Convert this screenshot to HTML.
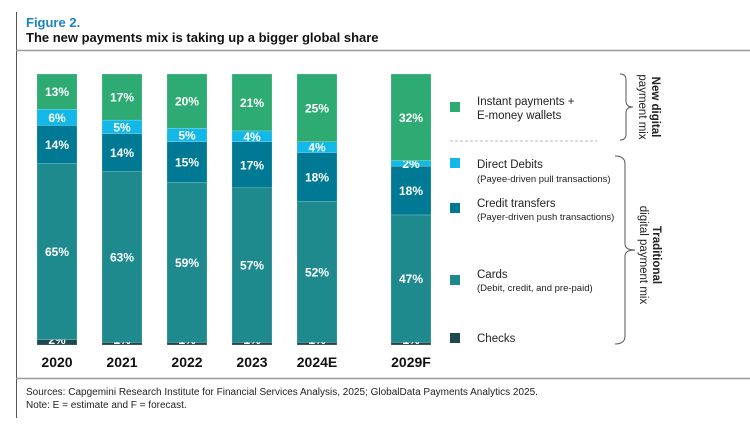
<!DOCTYPE html>
<html><head><meta charset="utf-8"><style>
body{margin:0;width:750px;height:431px;background:#fff;overflow:hidden;font-family:"Liberation Sans",sans-serif}
</style></head><body>
<svg id="chart" width="750" height="431" viewBox="0 0 750 431" xmlns="http://www.w3.org/2000/svg">
<line x1="16.5" y1="12" x2="16.5" y2="418" stroke="#555" stroke-width="1"/>
<line x1="16" y1="50.5" x2="750" y2="50.5" stroke="#999" stroke-width="1.5"/>
<line x1="16" y1="378.5" x2="750" y2="378.5" stroke="#999" stroke-width="1.5"/>
<text x="26" y="27" font-size="13" font-weight="bold" fill="#1a84c0">Figure 2.</text>
<text x="26" y="42" font-size="13" font-weight="bold" fill="#111">The new payments mix is taking up a bigger global share</text>
<g id="bars"></g>
<g id="legend" font-size="11.5" fill="#222">
<rect x="450" y="102" width="10" height="10" fill="#2eaa73"/>
<text x="477" y="105">Instant payments +</text>
<text x="477" y="119">E-money wallets</text>
<line x1="450" y1="141" x2="597" y2="141" stroke="#bbb" stroke-dasharray="3,2"/>
<rect x="450" y="158" width="10" height="10" fill="#12b8e8"/>
<text x="477" y="168">Direct Debits</text>
<text x="477" y="182" font-size="9.5">(Payee-driven pull transactions)</text>
<rect x="450" y="203" width="10" height="10" fill="#007a94"/>
<text x="477" y="207">Credit transfers</text>
<text x="477" y="220" font-size="9.5">(Payer-driven push transactions)</text>
<rect x="450" y="275" width="10" height="10" fill="#1f8a8e"/>
<text x="477" y="278">Cards</text>
<text x="477" y="291" font-size="9.5">(Debit, credit, and pre-paid)</text>
<rect x="450" y="333" width="10" height="10" fill="#1c4a50"/>
<text x="477" y="342">Checks</text>
</g>
<path d="M620 74 Q626 74 626 80 L626 101 Q626 107 633 107 Q626 107 626 113 L626 134 Q626 140 620 140" fill="none" stroke="#555"/>
<path d="M615 156 Q625 156 625 164 L625 244 Q625 250 635 250 Q625 250 625 256 L625 336 Q625 344 615 344" fill="none" stroke="#555"/>
<g transform="translate(649,107) rotate(90)" font-size="11.5" fill="#222" text-anchor="middle">
<text x="0" y="-3" font-weight="bold">New digital</text>
<text x="0" y="10">payment mix</text>
</g>
<g transform="translate(650,255) rotate(90)" font-size="11.5" fill="#222" text-anchor="middle">
<text x="0" y="-3" font-weight="bold">Traditional</text>
<text x="0" y="10">digital payment mix</text>
</g>
<text x="26" y="395" font-size="10" fill="#222">Sources: Capgemini Research Institute for Financial Services Analysis, 2025; GlobalData Payments Analytics 2025.</text>
<text x="26" y="408" font-size="10" fill="#222">Note: E = estimate and F = forecast.</text>
</svg>
<script>
const years = ["2020","2021","2022","2023","2024E","2029F"];
const checks = [2,1,1,1,1,1];
const cards = [65,63,59,57,52,47];
const credit = [14,14,15,17,18,18];
const direct = [6,5,5,4,4,2];
const instant = [13,17,20,21,25,32];
const seriesNames = ["checks","cards","credit-transfers","direct-debits","instant-payments"];
const seriesColors = ["#1c4a50","#1f8a8e","#007a94","#12b8e8","#2eaa73"];
const NS = "http://www.w3.org/2000/svg";
const g = document.getElementById("bars");
const top0 = 74, bottom0 = 345, barW = 40;
const xPos = i => i < 5 ? 37 + i * 65 : 391;
const yScale = v => (bottom0 - top0) * v / 100;
const series = [checks, cards, credit, direct, instant];
years.forEach((yr, i) => {
  const total = series.reduce((s, a) => s + a[i], 0);
  let y = bottom0;
  series.forEach((arr, k) => {
    const h = yScale(arr[i] * 100 / total);
    y -= h;
    const r = document.createElementNS(NS, "rect");
    r.setAttribute("x", xPos(i)); r.setAttribute("y", y);
    r.setAttribute("width", barW); r.setAttribute("height", h);
    r.setAttribute("fill", seriesColors[k]);
    r.setAttribute("stroke", "rgba(255,255,255,0.35)"); r.setAttribute("stroke-width", "0.5");
    
    
    g.appendChild(r);
    const t = document.createElementNS(NS, "text");
    t.setAttribute("x", xPos(i) + barW / 2);
    t.setAttribute("y", k === 0 ? bottom0 - 1 : y + h / 2 + 4.5);
    t.setAttribute("text-anchor", "middle");
    t.setAttribute("font-size", "12"); t.setAttribute("font-weight", "bold");
    t.setAttribute("fill", "#fff");
    t.textContent = arr[i] + "%";
    
    
    g.appendChild(t);
  });
  const lab = document.createElementNS(NS, "text");
  lab.setAttribute("x", xPos(i) + barW / 2); lab.setAttribute("y", 367);
  lab.setAttribute("text-anchor", "middle");
  lab.setAttribute("font-size", "14"); lab.setAttribute("font-weight", "bold");
  lab.setAttribute("fill", "#111");
  lab.textContent = yr;
  
  
  g.appendChild(lab);
});
</script>
</body></html>
